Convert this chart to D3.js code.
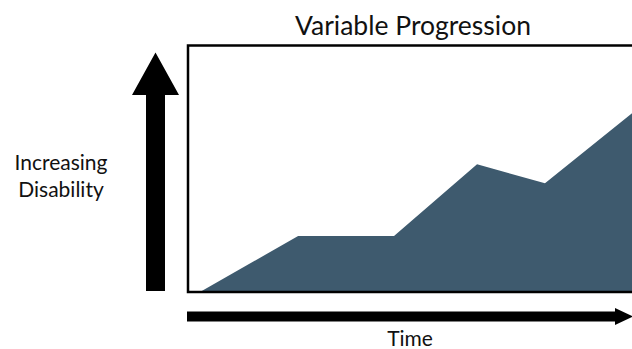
<!DOCTYPE html>
<html><head><meta charset="utf-8">
<script src="https://cdn.jsdelivr.net/npm/d3@7"></script>
<style>body{margin:0;background:#fff}svg{display:block}</style>
</head><body>
<script>
const timePoints = [2.7, 24.8, 46.4, 65.1, 80.4, 100];
const disability = [0, 22.7, 22.7, 51.8, 44.1, 72.5];
const titleText = "Variable Progression";
const yLabel = ["Increasing", "Disability"];
const xLabel = "Time";

const W = 632, H = 349;
const box = {left: 188, top: 45.5, right: 644, bottom: 292};
const svg = d3.select("body").append("svg").attr("width", W).attr("height", H);
const font = "Lato, 'Open Sans', sans-serif";

const x = d3.scaleLinear().domain([0, 100]).range([box.left, 632]);
const y = d3.scaleLinear().domain([0, 100]).range([box.bottom, box.top]);

const data = timePoints.map((t, i) => ({t, v: disability[i]}));
const area = d3.area().x(d => x(d.t)).y0(y(0)).y1(d => y(d.v));

svg.append("path").datum(data).attr("d", area).attr("fill", "#3e5a6e");

svg.append("rect").attr("x", box.left).attr("y", box.top)
  .attr("width", box.right - box.left).attr("height", box.bottom - box.top)
  .attr("fill", "none").attr("stroke", "#000").attr("stroke-width", 2.5);

svg.append("text").attr("x", 413).attr("y", 35).attr("text-anchor", "middle")
  .attr("font-family", font).attr("font-size", 26.5).attr("fill", "#111").text(titleText);

// vertical arrow
svg.append("path").attr("fill", "#000")
  .attr("d", "M146,291 L146,95 L132,95 L155.5,52.5 L179,95 L165,95 L165,291 Z");
// horizontal arrow
svg.append("path").attr("fill", "#000")
  .attr("d", "M187,311.5 L615,311.5 L615,308 L633,316.5 L615,325 L615,321.5 L187,321.5 Z");

svg.selectAll("text.ylab").data(yLabel).enter().append("text")
  .attr("class", "ylab").attr("x", 61).attr("y", (d, i) => 170 + i * 27)
  .attr("text-anchor", "middle").attr("font-family", font).attr("font-size", 21)
  .attr("fill", "#111").text(d => d);

svg.append("text").attr("x", 410).attr("y", 346).attr("text-anchor", "middle")
  .attr("font-family", font).attr("font-size", 21).attr("fill", "#111").text(xLabel);
</script>
</body></html>
